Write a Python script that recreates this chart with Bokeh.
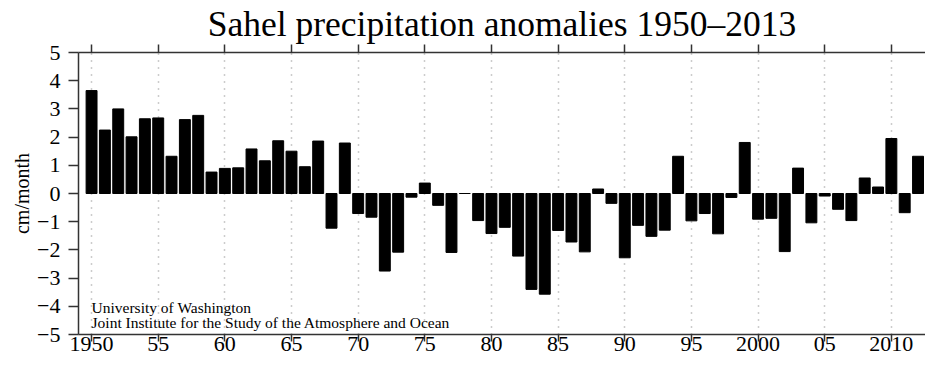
from bokeh.plotting import figure
from bokeh.models import LinearAxis, FixedTicker, Range1d, Label, ColumnDataSource
from bokeh.embed import file_html
from bokeh.resources import INLINE

years = list(range(1950, 2014))
anomalies = [3.65, 2.25, 3.00, 2.01, 2.65, 2.68, 1.32, 2.62, 2.77, 0.76,
             0.89, 0.91, 1.58, 1.16, 1.87, 1.50, 0.95, 1.86, -1.23, 1.79,
             -0.71, -0.84, -2.75, -2.08, -0.13, 0.37, -0.42, -2.09, 0.0, -0.96,
             -1.42, -1.20, -2.22, -3.40, -3.57, -1.31, -1.72, -2.07, 0.16, -0.35,
             -2.28, -1.13, -1.52, -1.30, 1.32, -0.97, -0.71, -1.43, -0.14, 1.81,
             -0.91, -0.88, -2.06, 0.90, -1.04, -0.09, -0.56, -0.96, 0.55, 0.23,
             1.95, -0.68, 1.32, 0.0]

x_ticks = [1950, 1955, 1960, 1965, 1970, 1975, 1980, 1985, 1990, 1995, 2000, 2005, 2010]
x_tick_labels = ["1950", "55", "60", "65", "70", "75", "80", "85", "90", "95", "2000", "05", "2010"]
y_ticks = [-5, -4, -3, -2, -1, 0, 1, 2, 3, 4, 5]
y_tick_labels = ["\u22125", "\u22124", "\u22123", "\u22122", "\u22121", "0", "1", "2", "3", "4", "5"]

title_text = "Sahel precipitation anomalies 1950\u20132013"
y_label = "cm/month"
credit_lines = ["University of Washington",
                "Joint Institute for the Study of the Atmosphere and Ocean"]

FONT = "Liberation Serif"
AX = "#333333"

p = figure(width=925, height=354, output_backend="svg", toolbar_location=None,
           x_range=Range1d(1949.02, 2012.56), y_range=Range1d(-5, 5),
           min_border_left=78, min_border_right=0, min_border_top=36, min_border_bottom=20,
           x_axis_location=None, y_axis_location=None)
p.outline_line_color = None
p.background_fill_color = "white"
p.border_fill_color = "white"

p.title.text = title_text
p.title.align = "center"
p.title.text_font = FONT
p.title.text_font_size = "35.5px"
p.title.text_font_style = "normal"
p.title.text_color = "black"
p.title.standoff = 2
p.title.offset = 8

# grid
p.xgrid.ticker = FixedTicker(ticks=x_ticks)
p.xgrid.grid_line_color = "#999999"
p.xgrid.grid_line_dash = "1 6"
p.xgrid.grid_line_width = 1.5
p.ygrid.grid_line_color = None

src = ColumnDataSource(dict(year=years, value=anomalies))
p.vbar(x="year", top="value", bottom=0, width=0.82, source=src,
       fill_color="black", line_color="black", line_width=1)

def style_axis(ax, ticks, overrides, out, fs):
    ax.ticker = FixedTicker(ticks=ticks)
    ax.major_label_overrides = overrides
    ax.minor_tick_line_color = None
    ax.major_tick_in = 0
    ax.major_tick_out = out
    ax.axis_line_color = AX
    ax.axis_line_width = 1.5
    ax.major_tick_line_color = AX
    ax.major_tick_line_width = 1.5
    ax.major_label_text_font = FONT
    ax.major_label_text_font_size = fs
    ax.major_label_text_color = "black"

xb = LinearAxis()
style_axis(xb, x_ticks, {t: s for t, s in zip(x_ticks, x_tick_labels)}, 7, "22px")
xb.major_label_standoff = -5
p.add_layout(xb, "below")

xt = LinearAxis()
style_axis(xt, x_ticks, {t: "" for t in x_ticks}, 8, "0px")
xt.major_label_standoff = 0
p.add_layout(xt, "above")

yl = LinearAxis(axis_label=y_label)
style_axis(yl, y_ticks, {t: s for t, s in zip(y_ticks, y_tick_labels)}, 10, "22px")
yl.major_label_standoff = 8
yl.axis_label_text_font = FONT
yl.axis_label_text_font_size = "20px"
yl.axis_label_text_font_style = "normal"
yl.axis_label_text_color = "black"
yl.axis_label_standoff = 1
p.add_layout(yl, "left")

p.add_layout(Label(x=1950, y=-4.05, text=credit_lines[0], text_font=FONT,
                   text_font_size="15.5px", text_baseline="middle", text_color="black"))
p.add_layout(Label(x=1950, y=-4.57, text=credit_lines[1], text_font=FONT,
                   text_font_size="15.5px", text_baseline="middle", text_color="black"))

open("out.html", "w").write(file_html(p, INLINE))
